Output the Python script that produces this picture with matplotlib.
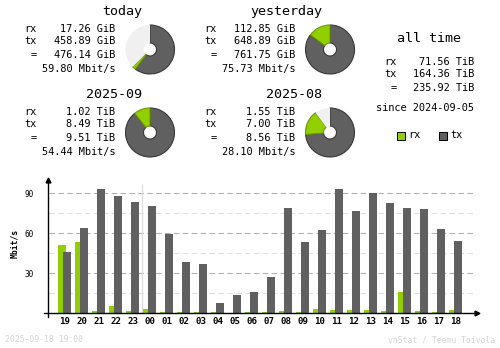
import numpy as np
import matplotlib.pyplot as plt

# hourly traffic (Mbit/s)
hours = ["19", "20", "21", "22", "23", "00", "01", "02", "03", "04", "05", "06",
         "07", "08", "09", "10", "11", "12", "13", "14", "15", "16", "17", "18"]
rx_rate = [51.3, 53.5, 1.8, 5.5, 1.8, 3.3, 1.0, 1.0, 1.0, 1.0, 0.0, 1.0,
           1.0, 1.8, 1.0, 3.3, 2.5, 2.5, 2.5, 1.8, 16.0, 1.8, 1.0, 2.5]
tx_rate = [46.0, 64.0, 93.3, 88.0, 83.5, 80.5, 59.8, 38.5, 37.0, 7.8, 13.8, 16.0,
           27.3, 79.0, 53.5, 62.5, 93.3, 76.8, 90.3, 82.8, 79.0, 78.3, 63.3, 54.3]

# summary panels
panel_titles = ["today", "yesterday", "2025-09", "2025-08"]
panel_rx = [17.26, 112.85, 1.02, 1.55]
panel_tx = [458.89, 648.89, 8.49, 7.00]
panel_total = [476.14, 761.75, 9.51, 8.56]
panel_unit = ["GiB", "GiB", "TiB", "TiB"]
panel_rate = [59.80, 75.73, 54.44, 28.10]

alltime_rx = 71.56
alltime_tx = 164.36
alltime_total = 235.92
since_date = "2024-09-05"

RX = "#92cf00"
TX = "#606060"
RX_EDGE = "#6c9a00"
TX_EDGE = "#383838"
EMPTY = "#f0f0f0"
MONO = "DejaVu Sans Mono"

W, H = 500, 348
fig = plt.figure(figsize=(W / 100, H / 100), dpi=100)
fig.patch.set_facecolor("white")

# background axes in pixel coordinates for all the text
bg = fig.add_axes([0, 0, 1, 1])
bg.set_xlim(0, W)
bg.set_ylim(H, 0)
bg.axis("off")


def txt(x, y, s, size=7.4, ha="left", **kw):
    bg.text(x, y, s, fontsize=size, ha=ha, va="center", family=MONO, **kw)


# panel offsets (text block origin and pie centre)
offs = [(0, 0), (180, 0), (0, 83), (180, 83)]
pair_max = [max(panel_total[0], panel_total[1]), max(panel_total[0], panel_total[1]),
            max(panel_total[2], panel_total[3]), max(panel_total[2], panel_total[3])]

for i, (dx, dy) in enumerate(offs):
    txt(142 + dx, 12 + dy, panel_titles[i], size=9.6, ha="right")
    rows = [("rx", panel_rx[i]), ("tx", panel_tx[i]), ("=", panel_total[i])]
    for (lab, val), y in zip(rows, [29, 41, 55]):
        txt(37 + dx, y + dy, lab, ha="right")
        txt(115 + dx, y + dy, "%.2f %s" % (val, panel_unit[i]), ha="right")
    txt(115 + dx, 69 + dy, "%.2f Mbit/s" % panel_rate[i], ha="right")

    # donut
    cx, cy = 150 + dx, 49.5 + dy
    pa = fig.add_axes([(cx - 27) / W, (H - cy - 27) / H, 54 / W, 54 / H])
    rest = pair_max[i] - panel_total[i]
    wedges, _ = pa.pie([panel_tx[i], panel_rx[i], max(rest, 0)],
                       colors=[TX, RX, EMPTY], startangle=90, counterclock=False,
                       radius=24.5, wedgeprops=dict(width=18, linewidth=0.8))
    wedges[0].set_edgecolor(TX_EDGE)
    wedges[1].set_edgecolor(RX_EDGE)
    wedges[2].set_edgecolor("none")
    pa.set_xlim(-27, 27)
    pa.set_ylim(-27, 27)
    pa.axis("off")

# all time block
txt(429, 39, "all time", size=9.6, ha="center")
for (lab, val), y in zip([("rx", alltime_rx), ("tx", alltime_tx), ("=", alltime_total)],
                         [62, 74, 88]):
    txt(397, y, lab, ha="right")
    txt(474, y, "%.2f TiB" % val, ha="right")
txt(474, 108, "since " + since_date, ha="right")

# legend
bg.scatter([401], [136], marker="s", s=26, color=RX, edgecolor="black", linewidth=0.7)
txt(408, 135.5, "rx")
bg.scatter([443], [136], marker="s", s=26, color=TX, edgecolor="black", linewidth=0.7)
txt(450, 135.5, "tx")

# footer
txt(5, 340, "2025-09-18 19:00", size=5.9, color="#d4d4d4")
txt(495, 340, "vnStat / Teemu Toivola", size=5.9, color="#d4d4d4", ha="right")

# y label of hourly chart
bg.text(15, 243, "Mbit/s", fontsize=5.8, fontweight="bold", family=MONO,
        rotation=90, ha="center", va="center")

# hourly bar chart
x0, x1, yb, yt = 48, 477, 313.3, 180
ax = fig.add_axes([x0 / W, (H - yb) / H, (x1 - x0) / W, (yb - yt) / H])
xmax = (x1 - 65) / 17.0
ax.set_xlim(-1, xmax)
ax.set_ylim(0, 100)
ax.patch.set_alpha(0)
for s in ax.spines.values():
    s.set_visible(False)

px = 1 / 17.0  # one pixel in index units
idx = np.arange(len(hours))

for v in [15, 45, 75]:
    ax.hlines(v, -0.94, 24.0, color="#e0e0e0", lw=0.8, linestyle=(0, (5, 3)), zorder=1)
for v in [30, 60, 90]:
    ax.hlines(v, -0.94, 24.0, color="#b0b0b0", lw=0.8, linestyle=(0, (5, 3)), zorder=1)
ax.vlines(4.5, 0, 97, color="#dcdcdc", lw=0.9, zorder=1)

ax.bar(idx - 3 * px, rx_rate, width=7.4 * px, color=RX, zorder=2)
ax.bar(idx + 2.2 * px, tx_rate, width=7.6 * px, color=TX, zorder=3)

# axes with arrowheads
ax.plot([-1 - 4 * px, xmax], [0, 0], color="black", lw=1, clip_on=False, zorder=4)
ax.plot([-1, -1], [-2.5, 100], color="black", lw=1, clip_on=False, zorder=4)
ax.plot([-1], [100], marker="^", ms=3.5, color="black", clip_on=False, zorder=5)
ax.plot([xmax], [0], marker=">", ms=3.5, color="black", clip_on=False, zorder=5)

ax.set_xticks(idx)
ax.set_xticklabels(hours, family=MONO, fontsize=6.6, fontweight="bold")
ax.set_yticks([30, 60, 90])
ax.set_yticklabels(["30", "60", "90"], family=MONO, fontsize=5.6)
ax.tick_params(axis="x", length=0, pad=3)
ax.tick_params(axis="y", length=0, pad=10.5)

fig.savefig("out.png", dpi=100, facecolor="white")
